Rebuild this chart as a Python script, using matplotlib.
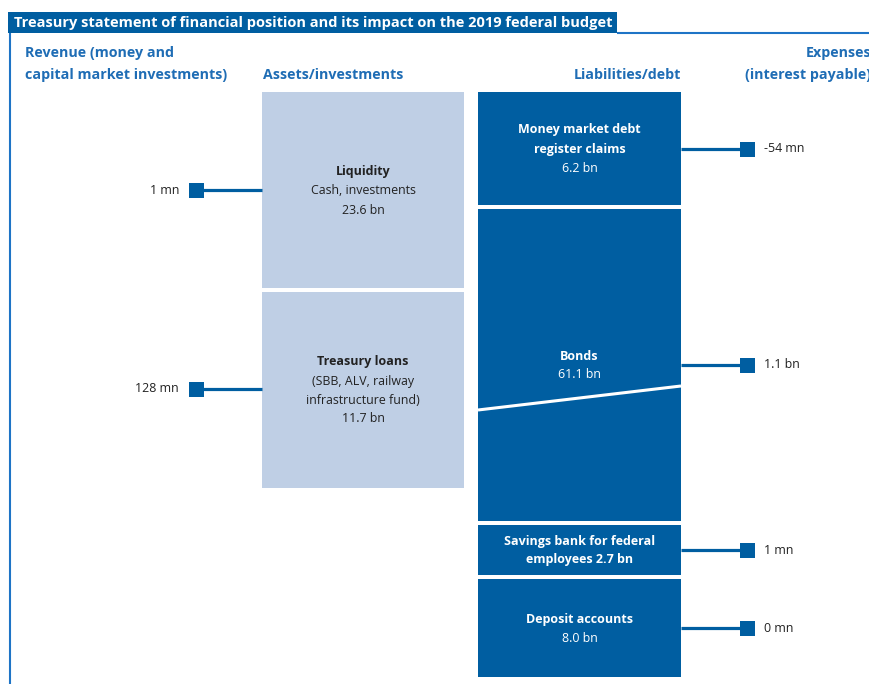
import matplotlib.pyplot as plt
from matplotlib.patches import Rectangle

plt.rcParams["font.family"] = ["Open Sans", "DejaVu Sans"]

DARK = "#005ea1"
LIGHT = "#bfcfe5"
HEAD = "#1f6db5"
FRAME = "#1e74c6"
INK = "#222222"

TITLE = "Treasury statement of financial position and its impact on the 2019 federal budget"

# assets side: name, description, value, revenue
asset_names = ["Liquidity", "Treasury loans"]
asset_desc = [["Cash, investments"], ["(SBB, ALV, railway", "infrastructure fund)"]]
asset_values = [23.6, 11.7]
revenue = ["1 mn", "128 mn"]

# liabilities side: name, value, expenses
liab_names = [["Money market debt", "register claims"], ["Bonds"],
              ["Savings bank for federal", "employees"], ["Deposit accounts"]]
liab_values = [6.2, 61.1, 2.7, 8.0]
expenses = ["-54 mn", "1.1 bn", "1 mn", "0 mn"]

# layout in pixels (top, bottom), connector heights, first text line
ASSET_X = (262, 464)
ASSET_Y = [(92, 288), (292, 488)]
ASSET_LINK = [190, 389]
ASSET_TEXT = [172, 362]
LIAB_X = (478, 681)
LIAB_Y = [(92, 205), (209, 521), (525, 575), (579, 677)]
LIAB_LINK = [149, 365, 550, 628]
LIAB_TEXT = [130, 356, 541, 619]
STEP = 19


def box(ax, x, y, color):
    ax.add_patch(Rectangle((x[0], y[0]), x[1] - x[0], y[1] - y[0], facecolor=color, edgecolor="none"))


fig = plt.figure(figsize=(8.69, 6.84), dpi=100)
ax = fig.add_axes([0, 0, 1, 1])
ax.set_xlim(0, 869)
ax.set_ylim(684, 0)
ax.axis("off")

# title bar and frame
ax.add_patch(Rectangle((8, 12), 609, 21, facecolor=DARK, edgecolor="none"))
ax.text(14, 23, TITLE, color="white", fontsize=10.5, fontweight="bold", va="center", ha="left")
ax.plot([617, 869], [33, 33], color=FRAME, lw=1.5, solid_capstyle="butt")
ax.plot([10, 10], [33, 684], color=FRAME, lw=1.5, solid_capstyle="butt")

# column headings (right column is cut by the edge, as in the source)
hd = dict(color=HEAD, fontsize=10.3, fontweight="bold", va="center")
ax.text(25, 53, "Revenue (money and", ha="left", **hd)
ax.text(25, 75, "capital market investments)", ha="left", **hd)
ax.text(263, 75, "Assets/investments", ha="left", **hd)
ax.text(681, 75, "Liabilities/debt", ha="right", **hd)
ax.text(871, 53, "Expenses", ha="right", **hd)
ax.text(871, 75, "(interest payable)", ha="right", **hd)

# assets
for name, desc, val, rev, yy, link, ty in zip(asset_names, asset_desc, asset_values, revenue,
                                              ASSET_Y, ASSET_LINK, ASSET_TEXT):
    box(ax, ASSET_X, yy, LIGHT)
    cx = (ASSET_X[0] + ASSET_X[1]) / 2
    ax.text(cx, ty, name, ha="center", va="center", fontsize=9, fontweight="bold", color=INK)
    for i, line in enumerate(desc + [f"{val:.1f} bn"]):
        ax.text(cx, ty + STEP * (i + 1), line, ha="center", va="center", fontsize=8.9, color=INK)
    ax.plot([196, ASSET_X[0]], [link, link], color=DARK, lw=2.3, solid_capstyle="butt")
    ax.plot([196], [link], marker="s", ms=10.8, color=DARK, mew=0)
    ax.text(179, link, rev, ha="right", va="center", fontsize=8.9, color=INK)

# liabilities
for name, val, exp, yy, link, ty in zip(liab_names, liab_values, expenses, LIAB_Y, LIAB_LINK, LIAB_TEXT):
    box(ax, LIAB_X, yy, DARK)
    cx = (LIAB_X[0] + LIAB_X[1]) / 2
    if name[-1] == "employees":
        lines = name[:-1] + [f"{name[-1]} {val:.1f} bn"]
        for i, line in enumerate(lines):
            ax.text(cx, ty + STEP * i, line, ha="center", va="center", fontsize=9,
                    fontweight="bold", color="white")
    else:
        for i, line in enumerate(name):
            ax.text(cx, ty + STEP * i, line, ha="center", va="center", fontsize=9,
                    fontweight="bold", color="white")
        ax.text(cx, ty + STEP * len(name), f"{val:.1f} bn", ha="center", va="center",
                fontsize=8.9, color="white")
    ax.plot([LIAB_X[1], 747], [link, link], color=DARK, lw=2.3, solid_capstyle="butt")
    ax.plot([747], [link], marker="s", ms=10.8, color=DARK, mew=0)
    ax.text(764, link, exp, ha="left", va="center", fontsize=8.9, color=INK)

# white diagonal across the bonds block
ax.plot([LIAB_X[0], LIAB_X[1]], [410, 386], color="white", lw=2.2, solid_capstyle="butt")

fig.savefig("out.png", dpi=100)
